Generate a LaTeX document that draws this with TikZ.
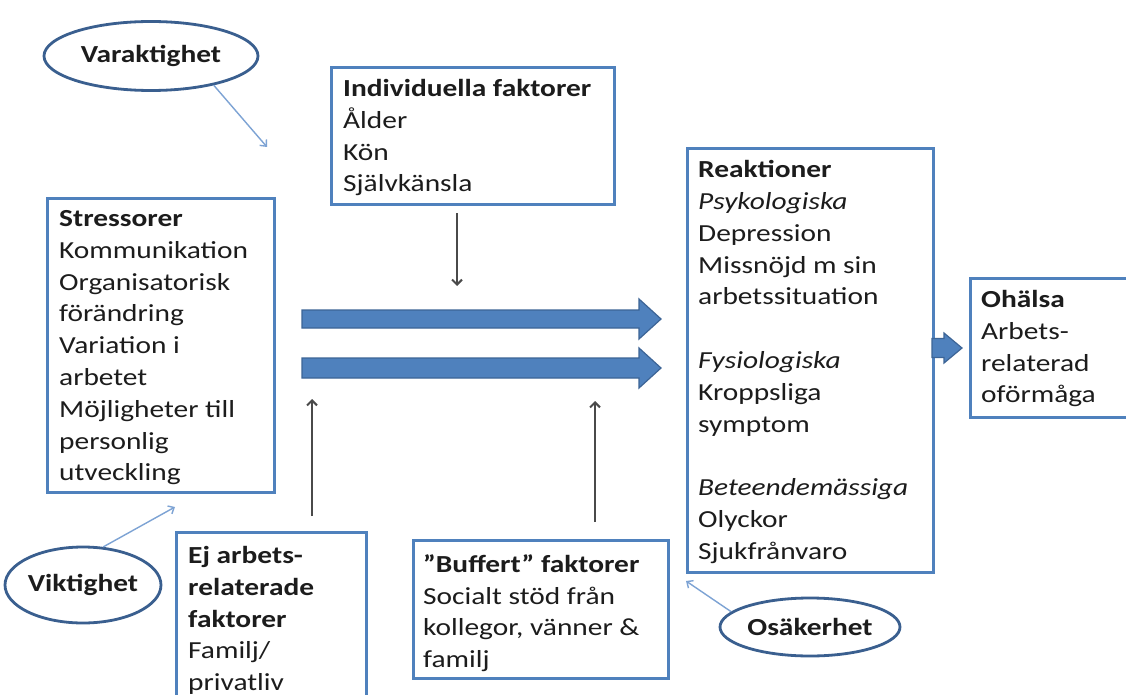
\documentclass[tikz,border=0pt]{standalone}
\usepackage{fontspec}
\setmainfont{Carlito}[FakeStretch=1.2]
\usetikzlibrary{shapes.geometric,arrows.meta}
\definecolor{boxblue}{HTML}{4F81BD}
\definecolor{ringblue}{HTML}{3A5F8F}
\definecolor{thinblue}{HTML}{7DA3D4}
\definecolor{arrowedge}{HTML}{3C6496}
\definecolor{txtgray}{HTML}{1C1C1C}
\definecolor{pointer}{HTML}{4A4A4A}
% block arrow: x start, x of head base, x of tip, y centre, shaft half height, head half height
\newcommand{\blockarrow}[6]{%
  \filldraw[barrow] (#1,#4-#5) -- (#2,#4-#5) -- (#2,#4-#6) -- (#3,#4)
    -- (#2,#4+#6) -- (#2,#4+#5) -- (#1,#4+#5) -- cycle;}
% a text block whose first baseline sits at the given point
\newcommand{\firstbase}[2]{(#1,#2-15.8)}
\begin{document}
\begin{tikzpicture}[x=1pt,y=-1pt,
  box/.style={draw=boxblue, line width=2.6pt, fill=white, inner sep=0pt, anchor=north west},
  txt/.style={align=left, inner sep=0pt, anchor=north west, text=txtgray,
    font=\fontsize{24.5}{31.8}\selectfont, execute at begin node=\strut},
  ring/.style={ellipse, draw=ringblue, line width=2.8pt, fill=white, inner sep=0pt,
    font=\fontsize{24.5}{30}\selectfont\bfseries, text=txtgray},
  barrow/.style={fill=boxblue, draw=arrowedge, line width=1.2pt},
  hint/.style={draw=thinblue, line width=1.4pt, -{Straight Barb[length=5pt,width=9pt]}},
  push/.style={draw=pointer, line width=2pt, -{Straight Barb[length=5pt,width=10pt]}}]
\clip (0,0) rectangle (1126,695);
\fill[white] (0,0) rectangle (1126,695);

% boxes
\node[box, minimum width=227, minimum height=294] (stress) at (46,197) {};
\node[box, minimum width=283, minimum height=137] (indiv) at (330,66) {};
\node[box, minimum width=246, minimum height=424] (react) at (686,147) {};
\node[box, minimum width=170, minimum height=139] (ohalsa) at (969,277) {};
\node[box, minimum width=190, minimum height=175] (ejarb) at (175,531) {};
\node[box, minimum width=255, minimum height=138] (buff) at (412,539) {};

% box texts
\node[txt] (stress-t) at \firstbase{59}{226} {\textbf{Stressorer}\\Kommunikation\\Organisatorisk\\förändring\\Variation i\\arbetet\\Möjligheter till\\personlig\\utveckling};
\node[txt] (indiv-t) at \firstbase{343}{95} {\textbf{Individuella faktorer}\\Ålder\\Kön\\Självkänsla};
\node[txt] (react-t) at \firstbase{698}{176} {\textbf{Reaktioner}\\\textit{Psykologiska}\\Depression\\Missnöjd m sin\\arbetssituation\\\mbox{}\\\textit{Fysiologiska}\\Kroppsliga\\symptom\\\mbox{}\\\textit{Beteendemässiga}\\Olyckor\\Sjukfrånvaro};
\node[txt] (ohalsa-t) at \firstbase{981}{306} {\textbf{Ohälsa}\\Arbets-\\relaterad\\oförmåga};
\node[txt] (ejarb-t) at \firstbase{188}{562} {\textbf{Ej arbets-}\\\textbf{relaterade}\\\textbf{faktorer}\\Familj/\\privatliv};
\node[txt] (buff-t) at \firstbase{423}{570} {\textbf{”Buffert” faktorer}\\Socialt stöd från\\kollegor, vänner \&\\familj};

% main flow arrows
\blockarrow{302}{639}{661}{319}{9}{20}
\blockarrow{302}{639}{661}{368}{10}{20}
\blockarrow{932}{944}{962}{348}{9.5}{15}

% moderating factors
\coordinate (ind-a) at (457,213);
\coordinate (ind-b) at (457,286);
\coordinate (ej-a) at (312,516);
\coordinate (ej-b) at (312,399);
\coordinate (buf-a) at (595,522);
\coordinate (buf-b) at (595,401);
\draw[push] (ind-a) -- (ind-b);
\draw[push] (ej-a) -- (ej-b);
\draw[push] (buf-a) -- (buf-b);

% dimension ellipses
\node[ring, minimum width=214, minimum height=69] (vara) at (151,56) {Varaktighet};
\node[ring, minimum width=150, minimum height=76] (vikt) at (83,585) {Viktighet};
\node[ring, minimum width=180, minimum height=58] (osak) at (810,627) {Osäkerhet};
\coordinate (va-end) at (267,147);
\coordinate (vi-end) at (175,507);
\coordinate (os-end) at (686,581);
\draw[hint] (vara.-25) -- (va-end);
\draw[hint] (vikt.62) -- (vi-end);
\draw[hint] (osak.169) -- (os-end);
\end{tikzpicture}
\end{document}
